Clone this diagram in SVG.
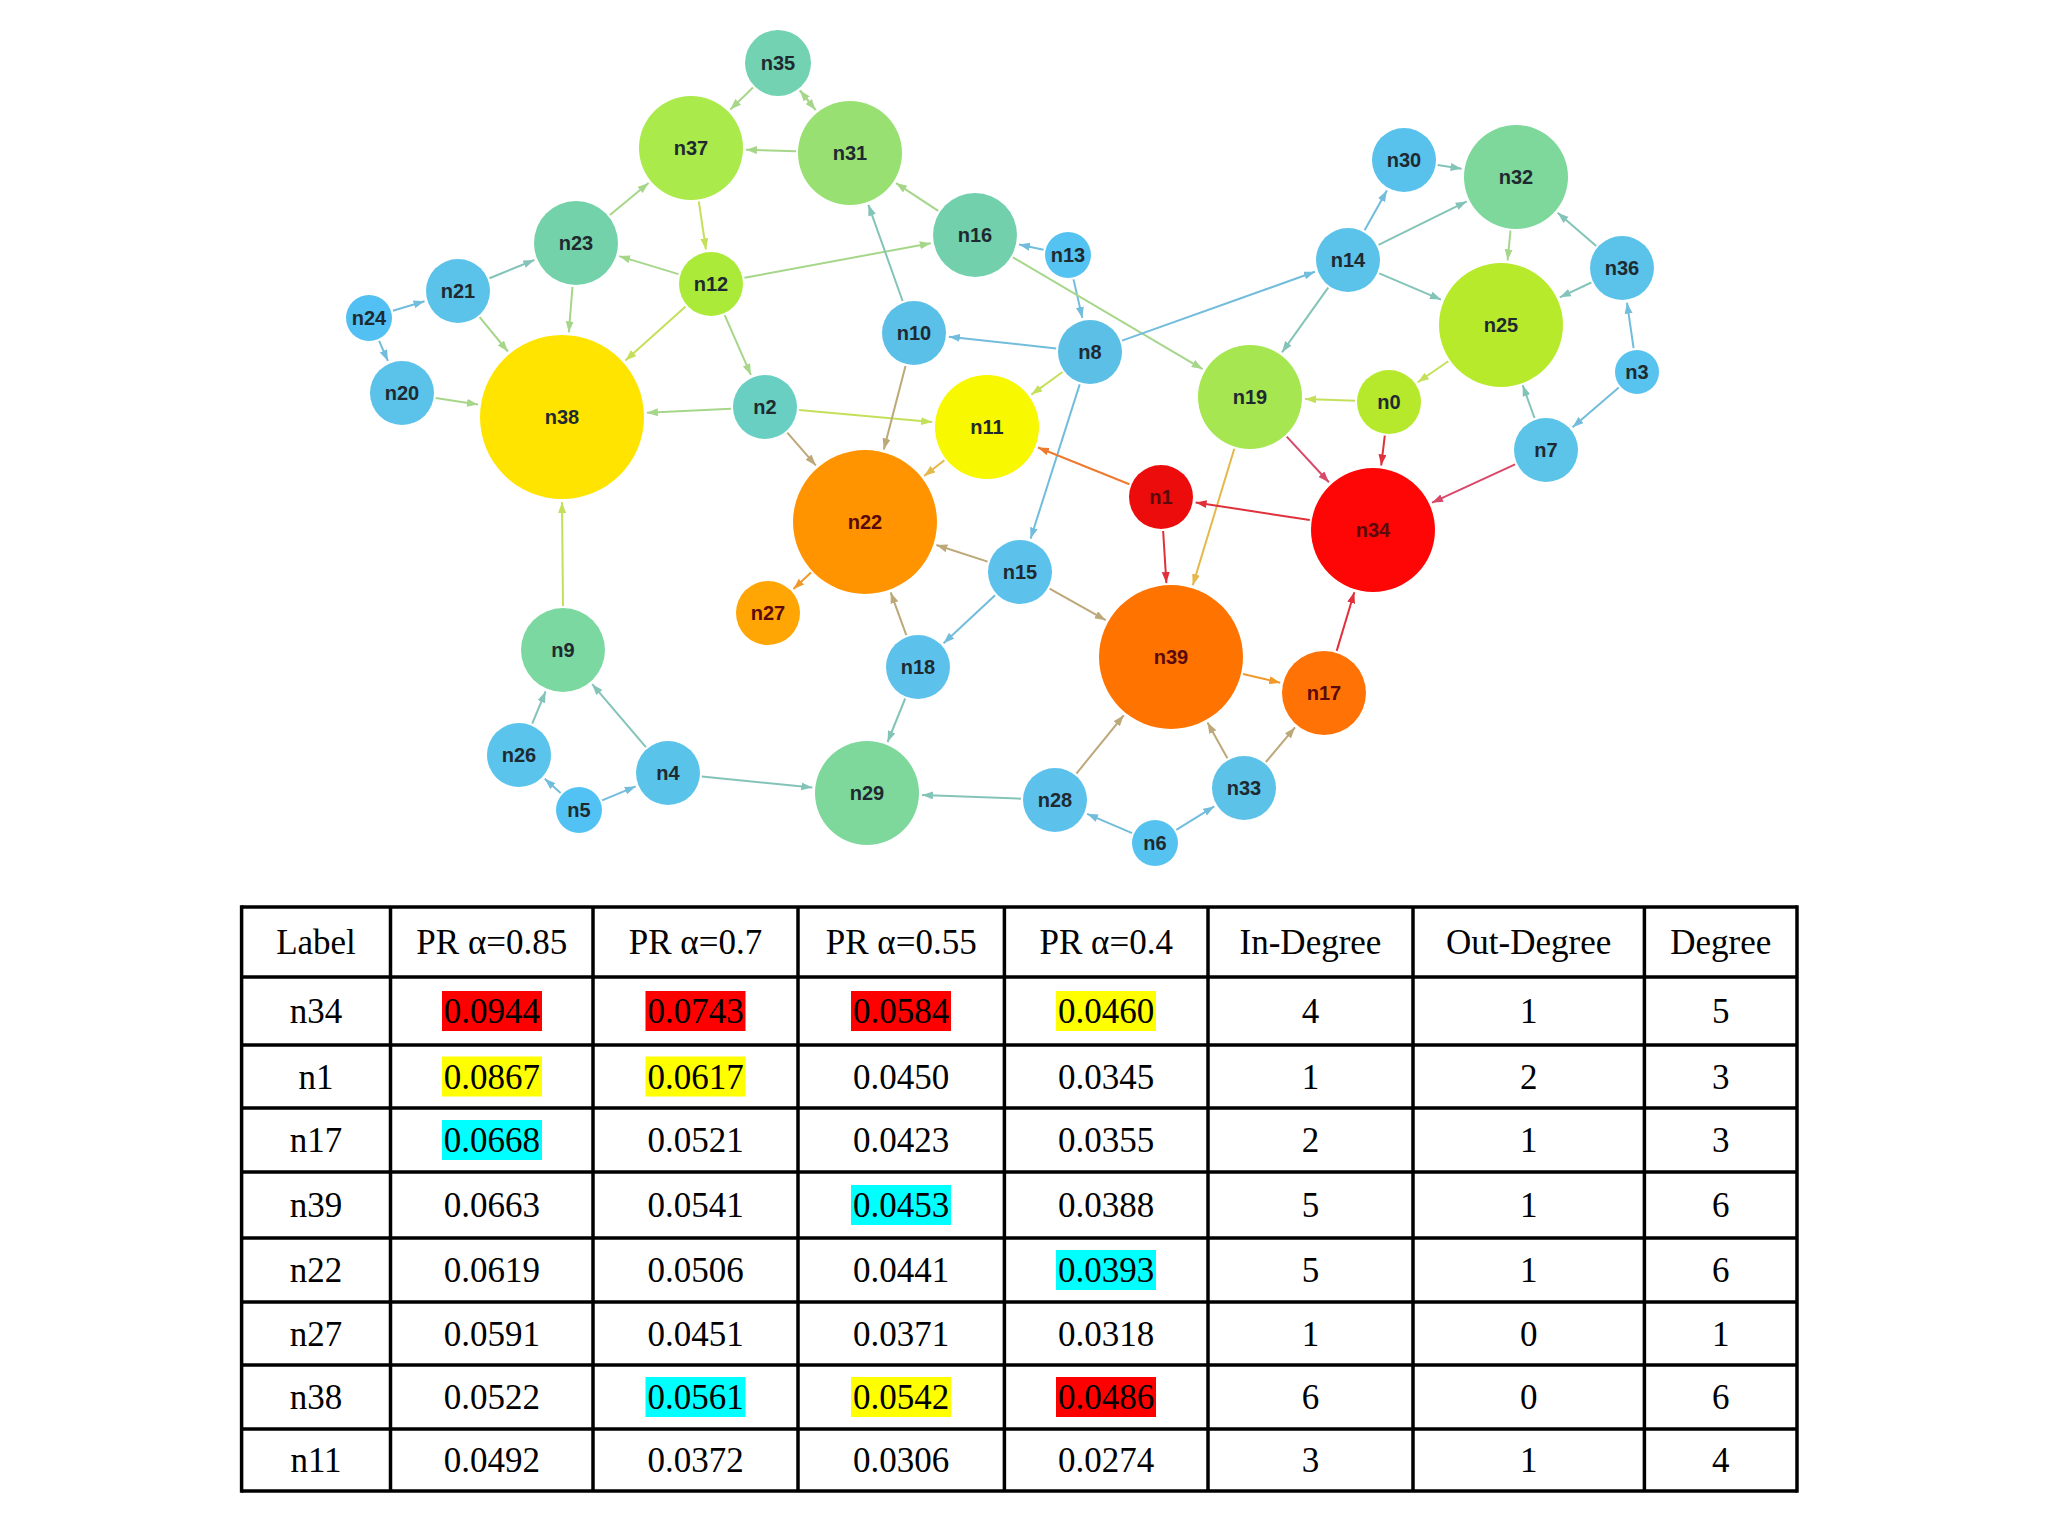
<svg xmlns="http://www.w3.org/2000/svg" width="2048" height="1536" viewBox="0 0 2048 1536">
<style>
.e{stroke-width:2;fill:none}
.c1{stroke:#72bcdc}.c2{stroke:#84c4b8}.c3{stroke:#a6d68a}.c4{stroke:#c4e05a}.c5{stroke:#bca878}.c6{stroke:#f0982a}.c7{stroke:#e0303a}.c8{stroke:#d84868}.c9{stroke:#e4b84a}.c10{stroke:#ee7a30}
.lbl{font-family:"Liberation Sans",Arial,sans-serif;font-weight:bold;font-size:20px;fill:#1e2a30;text-anchor:middle}
.lr{fill:#5a0a0a}
.th{font-family:"Liberation Serif","Times New Roman",serif;font-size:35px;fill:#000;text-anchor:middle}
.grid{stroke:#000;stroke-width:3.5}
</style>
<defs>
<marker id="m1" markerUnits="userSpaceOnUse" markerWidth="12" markerHeight="9" refX="11" refY="4" orient="auto"><path d="M0,0 L11,4 L0,8 z" fill="#72bcdc"/></marker>
<marker id="m2" markerUnits="userSpaceOnUse" markerWidth="12" markerHeight="9" refX="11" refY="4" orient="auto"><path d="M0,0 L11,4 L0,8 z" fill="#84c4b8"/></marker>
<marker id="m3" markerUnits="userSpaceOnUse" markerWidth="12" markerHeight="9" refX="11" refY="4" orient="auto"><path d="M0,0 L11,4 L0,8 z" fill="#a6d68a"/></marker>
<marker id="m4" markerUnits="userSpaceOnUse" markerWidth="12" markerHeight="9" refX="11" refY="4" orient="auto"><path d="M0,0 L11,4 L0,8 z" fill="#c4e05a"/></marker>
<marker id="m5" markerUnits="userSpaceOnUse" markerWidth="12" markerHeight="9" refX="11" refY="4" orient="auto"><path d="M0,0 L11,4 L0,8 z" fill="#bca878"/></marker>
<marker id="m6" markerUnits="userSpaceOnUse" markerWidth="12" markerHeight="9" refX="11" refY="4" orient="auto"><path d="M0,0 L11,4 L0,8 z" fill="#f0982a"/></marker>
<marker id="m7" markerUnits="userSpaceOnUse" markerWidth="12" markerHeight="9" refX="11" refY="4" orient="auto"><path d="M0,0 L11,4 L0,8 z" fill="#e0303a"/></marker>
<marker id="m8" markerUnits="userSpaceOnUse" markerWidth="12" markerHeight="9" refX="11" refY="4" orient="auto"><path d="M0,0 L11,4 L0,8 z" fill="#d84868"/></marker>
<marker id="m9" markerUnits="userSpaceOnUse" markerWidth="12" markerHeight="9" refX="11" refY="4" orient="auto"><path d="M0,0 L11,4 L0,8 z" fill="#e4b84a"/></marker>
<marker id="m10" markerUnits="userSpaceOnUse" markerWidth="12" markerHeight="9" refX="11" refY="4" orient="auto"><path d="M0,0 L11,4 L0,8 z" fill="#ee7a30"/></marker>
</defs>
<rect width="2048" height="1536" fill="#fff"/>
<g id="connectors">
<line class="e c3" marker-end="url(#m3)" x1="753" y1="87.5" x2="730.3" y2="109.6"/>
<line class="e c3" marker-end="url(#m3)" x1="799.9" y1="90.3" x2="815.6" y2="110"/>
<line class="e c3" marker-end="url(#m3)" x1="815.6" y1="110" x2="799.9" y2="90.3"/>
<line class="e c3" marker-end="url(#m3)" x1="796" y1="151.3" x2="746" y2="149.7"/>
<line class="e c3" marker-end="url(#m3)" x1="609.9" y1="215" x2="648.6" y2="183"/>
<line class="e c4" marker-end="url(#m4)" x1="698.8" y1="201.4" x2="705.9" y2="249.4"/>
<line class="e c3" marker-end="url(#m3)" x1="678.5" y1="274.1" x2="619.1" y2="256.1"/>
<line class="e c2" marker-end="url(#m2)" x1="489.5" y1="278.2" x2="534.3" y2="260"/>
<line class="e c1" marker-end="url(#m1)" x1="392.9" y1="310.7" x2="424.5" y2="301.2"/>
<line class="e c1" marker-end="url(#m1)" x1="379.1" y1="340.9" x2="387.9" y2="360.9"/>
<line class="e c3" marker-end="url(#m3)" x1="479.6" y1="317.2" x2="507.9" y2="351.5"/>
<line class="e c3" marker-end="url(#m3)" x1="572.5" y1="286.9" x2="568.8" y2="332.3"/>
<line class="e c4" marker-end="url(#m4)" x1="685.6" y1="306.6" x2="625.4" y2="360.4"/>
<line class="e c3" marker-end="url(#m3)" x1="435.6" y1="398" x2="477.9" y2="404.4"/>
<line class="e c3" marker-end="url(#m3)" x1="731" y1="408.7" x2="646.9" y2="412.8"/>
<line class="e c3" marker-end="url(#m3)" x1="724.7" y1="315.1" x2="750.9" y2="374.9"/>
<line class="e c3" marker-end="url(#m3)" x1="744.4" y1="277.8" x2="930.8" y2="243.2"/>
<line class="e c4" marker-end="url(#m4)" x1="798.9" y1="410.1" x2="932.2" y2="422.1"/>
<line class="e c5" marker-end="url(#m5)" x1="787.3" y1="432.7" x2="815.8" y2="465.4"/>
<line class="e c3" marker-end="url(#m3)" x1="938.2" y1="210.9" x2="896" y2="183.1"/>
<line class="e c2" marker-end="url(#m2)" x1="902.6" y1="301" x2="868.4" y2="204.8"/>
<line class="e c1" marker-end="url(#m1)" x1="1043.5" y1="249.7" x2="1019" y2="244.5"/>
<line class="e c1" marker-end="url(#m1)" x1="1073.5" y1="279.4" x2="1082.3" y2="317.9"/>
<line class="e c3" marker-end="url(#m3)" x1="1012.9" y1="257.3" x2="1202.6" y2="369.1"/>
<line class="e c1" marker-end="url(#m1)" x1="1056.2" y1="348.4" x2="948.8" y2="336.7"/>
<line class="e c1" marker-end="url(#m1)" x1="1122" y1="340.6" x2="1315" y2="271.8"/>
<line class="e c4" marker-end="url(#m4)" x1="1062.5" y1="372" x2="1031.4" y2="394.6"/>
<line class="e c1" marker-end="url(#m1)" x1="1079.7" y1="384.4" x2="1030.6" y2="538.6"/>
<line class="e c5" marker-end="url(#m5)" x1="905.5" y1="365.9" x2="883.8" y2="449.4"/>
<line class="e c2" marker-end="url(#m2)" x1="1328.2" y1="287.6" x2="1282" y2="352.3"/>
<line class="e c4" marker-end="url(#m4)" x1="1355" y1="400.8" x2="1305" y2="399"/>
<line class="e c9" marker-end="url(#m9)" x1="944.4" y1="460.2" x2="924.2" y2="475.9"/>
<line class="e c10" marker-end="url(#m10)" x1="1129.4" y1="484.3" x2="1038" y2="447.5"/>
<line class="e c8" marker-end="url(#m8)" x1="1286.7" y1="436.6" x2="1328.9" y2="482.3"/>
<line class="e c9" marker-end="url(#m9)" x1="1234.3" y1="448.7" x2="1192.8" y2="585.2"/>
<line class="e c1" marker-end="url(#m1)" x1="1364.6" y1="230.3" x2="1386.9" y2="190.6"/>
<line class="e c2" marker-end="url(#m2)" x1="1378.5" y1="244.9" x2="1466.7" y2="201.4"/>
<line class="e c2" marker-end="url(#m2)" x1="1437.6" y1="165.1" x2="1461.6" y2="168.7"/>
<line class="e c2" marker-end="url(#m2)" x1="1379.3" y1="273.3" x2="1441" y2="299.6"/>
<line class="e c3" marker-end="url(#m3)" x1="1510.5" y1="230.7" x2="1507.6" y2="260.3"/>
<line class="e c2" marker-end="url(#m2)" x1="1596.2" y1="245.9" x2="1557.7" y2="212.8"/>
<line class="e c2" marker-end="url(#m2)" x1="1591.3" y1="282.5" x2="1559.8" y2="297.3"/>
<line class="e c1" marker-end="url(#m1)" x1="1633.6" y1="348.2" x2="1627" y2="302.7"/>
<line class="e c1" marker-end="url(#m1)" x1="1618.8" y1="387.6" x2="1572.6" y2="427.2"/>
<line class="e c2" marker-end="url(#m2)" x1="1534.5" y1="418" x2="1522.7" y2="385.2"/>
<line class="e c4" marker-end="url(#m4)" x1="1448.3" y1="361.3" x2="1417.8" y2="382.2"/>
<line class="e c7" marker-end="url(#m7)" x1="1384.8" y1="435.7" x2="1381.2" y2="465.5"/>
<line class="e c8" marker-end="url(#m8)" x1="1515.1" y1="464.3" x2="1432" y2="502.7"/>
<line class="e c7" marker-end="url(#m7)" x1="1309.8" y1="520.1" x2="1195.6" y2="502.4"/>
<line class="e c7" marker-end="url(#m7)" x1="1163.1" y1="531" x2="1166.4" y2="583.1"/>
<line class="e c5" marker-end="url(#m5)" x1="987.6" y1="561.6" x2="936.4" y2="545"/>
<line class="e c1" marker-end="url(#m1)" x1="995.1" y1="595.2" x2="943.6" y2="643.2"/>
<line class="e c5" marker-end="url(#m5)" x1="1049.6" y1="588.7" x2="1105.7" y2="620.2"/>
<line class="e c5" marker-end="url(#m5)" x1="906.3" y1="635.1" x2="890.7" y2="592.4"/>
<line class="e c2" marker-end="url(#m2)" x1="905.2" y1="698.5" x2="887.6" y2="742"/>
<line class="e c2" marker-end="url(#m2)" x1="1021" y1="798.7" x2="922" y2="795"/>
<line class="e c5" marker-end="url(#m5)" x1="1076.4" y1="773.6" x2="1123.7" y2="715.3"/>
<line class="e c5" marker-end="url(#m5)" x1="1227.4" y1="758.3" x2="1207.5" y2="722.5"/>
<line class="e c5" marker-end="url(#m5)" x1="1265.9" y1="762" x2="1295" y2="727.4"/>
<line class="e c1" marker-end="url(#m1)" x1="1132.1" y1="833.1" x2="1087.1" y2="813.8"/>
<line class="e c1" marker-end="url(#m1)" x1="1176.3" y1="829.8" x2="1214.2" y2="806.4"/>
<line class="e c6" marker-end="url(#m6)" x1="1243" y1="674" x2="1280.2" y2="682.7"/>
<line class="e c7" marker-end="url(#m7)" x1="1336.7" y1="650.9" x2="1354.3" y2="592.2"/>
<line class="e c2" marker-end="url(#m2)" x1="701.8" y1="776.4" x2="812.3" y2="787.5"/>
<line class="e c6" marker-end="url(#m6)" x1="811" y1="572.6" x2="793.5" y2="589.1"/>
<line class="e c4" marker-end="url(#m4)" x1="563" y1="606" x2="562" y2="502"/>
<line class="e c2" marker-end="url(#m2)" x1="532.2" y1="723.6" x2="545.6" y2="691.5"/>
<line class="e c2" marker-end="url(#m2)" x1="645.9" y1="747.1" x2="592.2" y2="684.2"/>
<line class="e c1" marker-end="url(#m1)" x1="560.6" y1="793.1" x2="544.8" y2="778.7"/>
<line class="e c1" marker-end="url(#m1)" x1="602.1" y1="800.4" x2="635.7" y2="786.4"/>
</g>
<g id="n0"><circle cx="1389" cy="402" r="32" fill="#b6e92c"/><text class="lbl" x="1389" y="409">n0</text></g>
<g id="n1"><circle cx="1161" cy="497" r="32" fill="#ec0c0c"/><text class="lbl lr" x="1161" y="504">n1</text></g>
<g id="n2"><circle cx="765" cy="407" r="32" fill="#68cfc2"/><text class="lbl" x="765" y="414">n2</text></g>
<g id="n3"><circle cx="1637" cy="372" r="22" fill="#58c3ee"/><text class="lbl" x="1637" y="379">n3</text></g>
<g id="n4"><circle cx="668" cy="773" r="32" fill="#5ac3ea"/><text class="lbl" x="668" y="780">n4</text></g>
<g id="n5"><circle cx="579" cy="810" r="23" fill="#52c2f5"/><text class="lbl" x="579" y="817">n5</text></g>
<g id="n6"><circle cx="1155" cy="843" r="23" fill="#55c2f0"/><text class="lbl" x="1155" y="850">n6</text></g>
<g id="n7"><circle cx="1546" cy="450" r="32" fill="#5bc4e8"/><text class="lbl" x="1546" y="457">n7</text></g>
<g id="n8"><circle cx="1090" cy="352" r="32" fill="#5bbfe6"/><text class="lbl" x="1090" y="359">n8</text></g>
<g id="n9"><circle cx="563" cy="650" r="42" fill="#7bd8a0"/><text class="lbl" x="563" y="657">n9</text></g>
<g id="n10"><circle cx="914" cy="333" r="32" fill="#5bc0e8"/><text class="lbl" x="914" y="340">n10</text></g>
<g id="n11"><circle cx="987" cy="427" r="52" fill="#f8f800"/><text class="lbl" x="987" y="434">n11</text></g>
<g id="n12"><circle cx="711" cy="284" r="32" fill="#acea3a"/><text class="lbl" x="711" y="291">n12</text></g>
<g id="n13"><circle cx="1068" cy="255" r="23" fill="#55c3f2"/><text class="lbl" x="1068" y="262">n13</text></g>
<g id="n14"><circle cx="1348" cy="260" r="32" fill="#5bc2ea"/><text class="lbl" x="1348" y="267">n14</text></g>
<g id="n15"><circle cx="1020" cy="572" r="32" fill="#5cc2ec"/><text class="lbl" x="1020" y="579">n15</text></g>
<g id="n16"><circle cx="975" cy="235" r="42" fill="#72d0ac"/><text class="lbl" x="975" y="242">n16</text></g>
<g id="n17"><circle cx="1324" cy="693" r="42" fill="#ff7306"/><text class="lbl lr" x="1324" y="700">n17</text></g>
<g id="n18"><circle cx="918" cy="667" r="32" fill="#5cc2ec"/><text class="lbl" x="918" y="674">n18</text></g>
<g id="n19"><circle cx="1250" cy="397" r="52" fill="#a6e650"/><text class="lbl" x="1250" y="404">n19</text></g>
<g id="n20"><circle cx="402" cy="393" r="32" fill="#5bc2ea"/><text class="lbl" x="402" y="400">n20</text></g>
<g id="n21"><circle cx="458" cy="291" r="32" fill="#5bc2ea"/><text class="lbl" x="458" y="298">n21</text></g>
<g id="n22"><circle cx="865" cy="522" r="72" fill="#ff9400"/><text class="lbl lr" x="865" y="529">n22</text></g>
<g id="n23"><circle cx="576" cy="243" r="42" fill="#74d2aa"/><text class="lbl" x="576" y="250">n23</text></g>
<g id="n24"><circle cx="369" cy="318" r="23" fill="#52c0f2"/><text class="lbl" x="369" y="325">n24</text></g>
<g id="n25"><circle cx="1501" cy="325" r="62" fill="#b8ea2c"/><text class="lbl" x="1501" y="332">n25</text></g>
<g id="n26"><circle cx="519" cy="755" r="32" fill="#5ac4ec"/><text class="lbl" x="519" y="762">n26</text></g>
<g id="n27"><circle cx="768" cy="613" r="32" fill="#ffa504"/><text class="lbl lr" x="768" y="620">n27</text></g>
<g id="n28"><circle cx="1055" cy="800" r="32" fill="#5cc2ec"/><text class="lbl" x="1055" y="807">n28</text></g>
<g id="n29"><circle cx="867" cy="793" r="52" fill="#7ed89c"/><text class="lbl" x="867" y="800">n29</text></g>
<g id="n30"><circle cx="1404" cy="160" r="32" fill="#58c2ec"/><text class="lbl" x="1404" y="167">n30</text></g>
<g id="n31"><circle cx="850" cy="153" r="52" fill="#98e072"/><text class="lbl" x="850" y="160">n31</text></g>
<g id="n32"><circle cx="1516" cy="177" r="52" fill="#7ed89c"/><text class="lbl" x="1516" y="184">n32</text></g>
<g id="n33"><circle cx="1244" cy="788" r="32" fill="#5cc2e8"/><text class="lbl" x="1244" y="795">n33</text></g>
<g id="n34"><circle cx="1373" cy="530" r="62" fill="#ff0606"/><text class="lbl lr" x="1373" y="537">n34</text></g>
<g id="n35"><circle cx="778" cy="63" r="33" fill="#72d2b2"/><text class="lbl" x="778" y="70">n35</text></g>
<g id="n36"><circle cx="1622" cy="268" r="32" fill="#5bc2ea"/><text class="lbl" x="1622" y="275">n36</text></g>
<g id="n37"><circle cx="691" cy="148" r="52" fill="#aaea4a"/><text class="lbl" x="691" y="155">n37</text></g>
<g id="n38"><circle cx="562" cy="417" r="82" fill="#ffe400"/><text class="lbl" x="562" y="424">n38</text></g>
<g id="n39"><circle cx="1171" cy="657" r="72" fill="#ff7300"/><text class="lbl lr" x="1171" y="664">n39</text></g>
<g id="table">
<g id="highlights">
<rect x="442" y="991" width="100" height="40" fill="#ff0000"/>
<rect x="645.5" y="991" width="100" height="40" fill="#ff0000"/>
<rect x="851" y="991" width="100" height="40" fill="#ff0000"/>
<rect x="1056" y="991" width="100" height="40" fill="#ffff00"/>
<rect x="442" y="1056.5" width="100" height="40" fill="#ffff00"/>
<rect x="645.5" y="1056.5" width="100" height="40" fill="#ffff00"/>
<rect x="442" y="1120" width="100" height="40" fill="#00ffff"/>
<rect x="851" y="1185" width="100" height="40" fill="#00ffff"/>
<rect x="1056" y="1250" width="100" height="40" fill="#00ffff"/>
<rect x="645.5" y="1377" width="100" height="40" fill="#00ffff"/>
<rect x="851" y="1377" width="100" height="40" fill="#ffff00"/>
<rect x="1056" y="1377" width="100" height="40" fill="#ff0000"/>
</g>
<g class="grid">
<line x1="241.6" y1="907" x2="1797" y2="907"/>
<line x1="241.6" y1="977" x2="1797" y2="977"/>
<line x1="241.6" y1="1045" x2="1797" y2="1045"/>
<line x1="241.6" y1="1108" x2="1797" y2="1108"/>
<line x1="241.6" y1="1172" x2="1797" y2="1172"/>
<line x1="241.6" y1="1238" x2="1797" y2="1238"/>
<line x1="241.6" y1="1302" x2="1797" y2="1302"/>
<line x1="241.6" y1="1365" x2="1797" y2="1365"/>
<line x1="241.6" y1="1429" x2="1797" y2="1429"/>
<line x1="241.6" y1="1491" x2="1797" y2="1491"/>
<line x1="241.6" y1="905.3" x2="241.6" y2="1492.7"/>
<line x1="390.5" y1="907" x2="390.5" y2="1491"/>
<line x1="593" y1="907" x2="593" y2="1491"/>
<line x1="798" y1="907" x2="798" y2="1491"/>
<line x1="1004.4" y1="907" x2="1004.4" y2="1491"/>
<line x1="1208" y1="907" x2="1208" y2="1491"/>
<line x1="1413" y1="907" x2="1413" y2="1491"/>
<line x1="1644.4" y1="907" x2="1644.4" y2="1491"/>
<line x1="1797" y1="905.3" x2="1797" y2="1492.7"/>
</g>
<g class="th">
<text x="316" y="954">Label</text><text x="491.8" y="954">PR α=0.85</text><text x="695.5" y="954">PR α=0.7</text><text x="901.2" y="954">PR α=0.55</text><text x="1106.2" y="954">PR α=0.4</text><text x="1310.5" y="954">In-Degree</text><text x="1528.7" y="954">Out-Degree</text><text x="1720.7" y="954">Degree</text>
<text x="316" y="1023">n34</text><text x="491.8" y="1023">0.0944</text><text x="695.5" y="1023">0.0743</text><text x="901.2" y="1023">0.0584</text><text x="1106.2" y="1023">0.0460</text><text x="1310.5" y="1023">4</text><text x="1528.7" y="1023">1</text><text x="1720.7" y="1023">5</text>
<text x="316" y="1088.5">n1</text><text x="491.8" y="1088.5">0.0867</text><text x="695.5" y="1088.5">0.0617</text><text x="901.2" y="1088.5">0.0450</text><text x="1106.2" y="1088.5">0.0345</text><text x="1310.5" y="1088.5">1</text><text x="1528.7" y="1088.5">2</text><text x="1720.7" y="1088.5">3</text>
<text x="316" y="1152">n17</text><text x="491.8" y="1152">0.0668</text><text x="695.5" y="1152">0.0521</text><text x="901.2" y="1152">0.0423</text><text x="1106.2" y="1152">0.0355</text><text x="1310.5" y="1152">2</text><text x="1528.7" y="1152">1</text><text x="1720.7" y="1152">3</text>
<text x="316" y="1217">n39</text><text x="491.8" y="1217">0.0663</text><text x="695.5" y="1217">0.0541</text><text x="901.2" y="1217">0.0453</text><text x="1106.2" y="1217">0.0388</text><text x="1310.5" y="1217">5</text><text x="1528.7" y="1217">1</text><text x="1720.7" y="1217">6</text>
<text x="316" y="1282">n22</text><text x="491.8" y="1282">0.0619</text><text x="695.5" y="1282">0.0506</text><text x="901.2" y="1282">0.0441</text><text x="1106.2" y="1282">0.0393</text><text x="1310.5" y="1282">5</text><text x="1528.7" y="1282">1</text><text x="1720.7" y="1282">6</text>
<text x="316" y="1345.5">n27</text><text x="491.8" y="1345.5">0.0591</text><text x="695.5" y="1345.5">0.0451</text><text x="901.2" y="1345.5">0.0371</text><text x="1106.2" y="1345.5">0.0318</text><text x="1310.5" y="1345.5">1</text><text x="1528.7" y="1345.5">0</text><text x="1720.7" y="1345.5">1</text>
<text x="316" y="1409">n38</text><text x="491.8" y="1409">0.0522</text><text x="695.5" y="1409">0.0561</text><text x="901.2" y="1409">0.0542</text><text x="1106.2" y="1409">0.0486</text><text x="1310.5" y="1409">6</text><text x="1528.7" y="1409">0</text><text x="1720.7" y="1409">6</text>
<text x="316" y="1472">n11</text><text x="491.8" y="1472">0.0492</text><text x="695.5" y="1472">0.0372</text><text x="901.2" y="1472">0.0306</text><text x="1106.2" y="1472">0.0274</text><text x="1310.5" y="1472">3</text><text x="1528.7" y="1472">1</text><text x="1720.7" y="1472">4</text>
</g>
</g>
</svg>
